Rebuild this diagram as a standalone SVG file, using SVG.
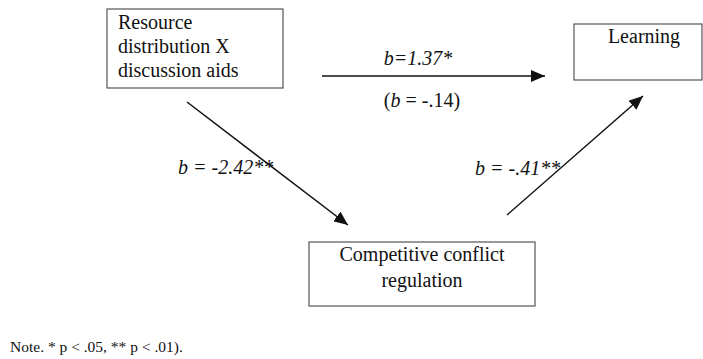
<svg xmlns="http://www.w3.org/2000/svg" width="703" height="359" viewBox="0 0 703 359">
<style>
.box{fill:#fff;stroke:#555;stroke-width:1.2}
.t{font-family:"Liberation Serif","Times New Roman",serif;font-size:20px;fill:#111}
.i{font-style:italic}
.c{stroke:#111;stroke-width:1.5;fill:none}
</style>
<defs>
<marker id="ah" markerUnits="userSpaceOnUse" markerWidth="16" markerHeight="12" refX="14" refY="6" orient="auto">
<path d="M0,0 L14,6 L0,12 Z" fill="#111"/>
</marker>
</defs>
<rect width="703" height="359" fill="#fff"/>
<g id="node-resource">
<rect class="box" x="107" y="9" width="176" height="79"/>
<text class="t" x="118" y="29">Resource</text>
<text class="t" x="118" y="53">distribution X</text>
<text class="t" x="118" y="77">discussion aids</text>
</g>
<g id="node-learning">
<rect class="box" x="574" y="24" width="128" height="56"/>
<text class="t" x="644" y="43" text-anchor="middle">Learning</text>
</g>
<g id="node-conflict">
<rect class="box" x="309" y="242" width="226" height="64"/>
<text class="t" x="422" y="261" text-anchor="middle">Competitive conflict</text>
<text class="t" x="422" y="287" text-anchor="middle">regulation</text>
</g>
<g id="connectors">
<line class="c" x1="322" y1="76" x2="545" y2="76" marker-end="url(#ah)"/>
<line class="c" x1="187" y1="102" x2="348" y2="225" marker-end="url(#ah)"/>
<line class="c" x1="507" y1="215" x2="643" y2="96" marker-end="url(#ah)"/>
</g>
<g id="labels">
<text class="t i" x="418" y="65" text-anchor="middle">b=1.37*</text>
<text class="t" x="422" y="107" text-anchor="middle">(<tspan class="i">b</tspan> = -.14)</text>
<text class="t i" x="178" y="174">b = -2.42**</text>
<text class="t i" x="475" y="175">b = -.41**</text>
</g>
<text x="10" y="352" style="font-family:'Liberation Serif','Times New Roman',serif;font-size:15.5px;fill:#111">Note. * p &lt; .05, ** p &lt; .01).</text>
</svg>
